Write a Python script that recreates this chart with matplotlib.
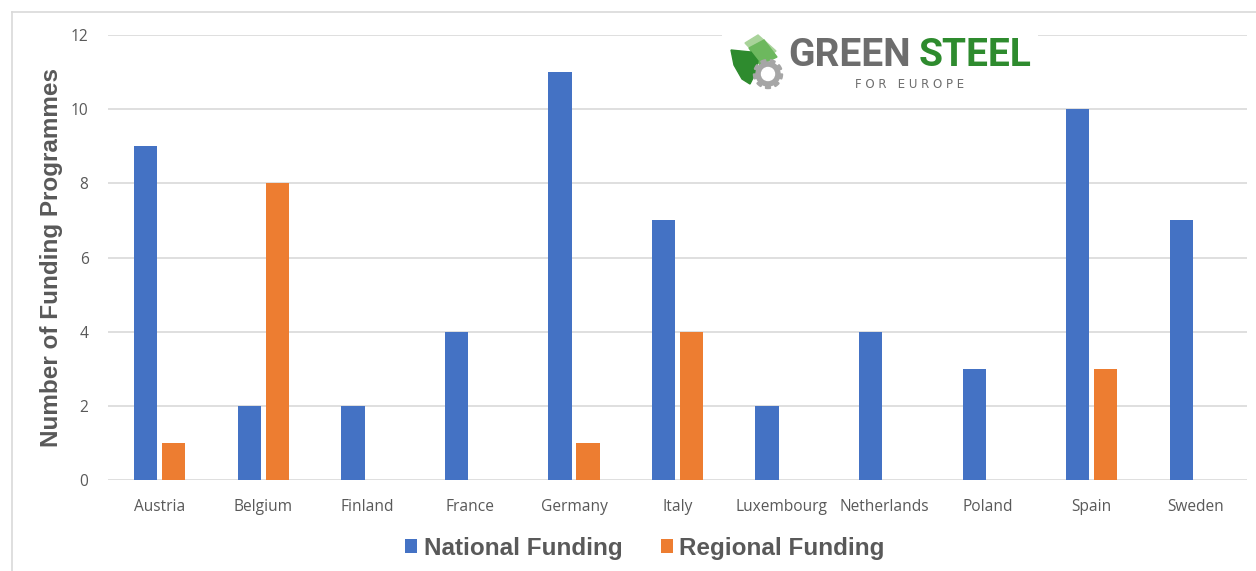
import numpy as np
import matplotlib
matplotlib.use("Agg")
import matplotlib.pyplot as plt
from matplotlib.patches import Circle, Polygon, Wedge
from matplotlib.lines import Line2D

countries = ["Austria", "Belgium", "Finland", "France", "Germany", "Italy",
             "Luxembourg", "Netherlands", "Poland", "Spain", "Sweden"]
national = [9, 2, 2, 4, 11, 7, 2, 4, 3, 10, 7]
regional = [1, 8, 0, 0, 1, 4, 0, 0, 0, 3, 0]
yticks = [0, 2, 4, 6, 8, 10, 12]

blue = "#4472C4"
orange = "#ED7D31"
grey_txt = "#595959"
grid_col = "#D9D9D9"

W, H = 1256, 571
fig = plt.figure(figsize=(W / 100, H / 100), dpi=100)
ax = fig.add_axes([108 / W, 1 - 480 / H, (1247 - 108) / W, (480 - 35) / H])

x = np.arange(len(countries))
bw = 0.225
off = 0.135
ax.bar(x - off, national, bw, color=blue, label="National Funding", zorder=3)
ax.bar(x + off, regional, bw, color=orange, label="Regional Funding", zorder=3)

ax.set_xlim(-0.5, len(countries) - 0.5)
ax.set_ylim(0, 12)
ax.set_yticks(yticks)
ax.set_xticks(x)
ax.set_xticklabels(countries, fontfamily="Open Sans", fontsize=11.2, color=grey_txt)
for lab in ax.get_yticklabels():
    lab.set_fontfamily("Open Sans")
    lab.set_fontsize(11.2)
    lab.set_color(grey_txt)
ax.tick_params(length=0, pad=14)
ax.yaxis.grid(True, color=grid_col, linewidth=1.2, zorder=0)
for s in ax.spines.values():
    s.set_visible(False)
ax.set_ylabel("Number of Funding Programmes", fontfamily="Liberation Sans",
              fontweight="bold", fontsize=17.5, color=grey_txt)
ax.yaxis.set_label_coords((63 - 108) / (1247 - 108), 0.5)

leg = fig.legend(loc="center", bbox_to_anchor=(645 / W, 1 - 548 / H), ncol=2,
                 frameon=False, prop={"family": "Liberation Sans", "weight": "bold", "size": 17.5},
                 handlelength=0.5, handleheight=0.5, handletextpad=0.25, columnspacing=1.6)
for t in leg.get_texts():
    t.set_color(grey_txt)

# outer border
fig.add_artist(Line2D([12 / W, 12 / W], [0, 1 - 12 / H], color=grid_col, lw=1.2))
fig.add_artist(Line2D([12 / W, 1], [1 - 12 / H, 1 - 12 / H], color=grid_col, lw=1.2))

# logo
lax = fig.add_axes([722 / W, 1 - 96 / H, 316 / W, 70 / H])
lax.set_xlim(722, 1038)
lax.set_ylim(96, 26)
lax.set_facecolor("white")
lax.set_xticks([])
lax.set_yticks([])
for s in lax.spines.values():
    s.set_visible(False)
lax.add_patch(Polygon([[745, 43], [758, 35], [776, 51], [762, 61]],
                      closed=True, color="#A9D39A"))
lax.add_patch(Polygon([[749, 48], [764, 40], [777, 57], [760, 65]],
                      closed=True, color="#6DB85E"))
lax.add_patch(Polygon([[731, 50], [751, 52], [758, 61], [756, 72], [750, 84], [742, 79], [734, 65]],
                      closed=True, color="#2E8B2E"))
for a in range(0, 360, 40):
    lax.add_patch(Wedge((768, 74), 14.5, a, a + 20, color="#A6A6A6"))
lax.add_patch(Circle((768, 74), 12, color="#A6A6A6"))
lax.add_patch(Circle((768, 74), 6.5, color="white"))
logo_font = ["Liberation Sans Narrow", "Roboto"]
lax.text(788, 55, "GREEN", fontfamily=logo_font,
         fontweight="bold", fontsize=28, color="#6D6D6D", va="center", ha="left")
lax.text(1031, 55, "STEEL", fontfamily=logo_font,
         fontweight="bold", fontsize=28, color="#2E8B2E", va="center", ha="right")
lax.text(910, 84, "F O R   E U R O P E", fontfamily="DejaVu Sans",
         fontsize=8.5, color="#6D6D6D", va="center", ha="center")

fig.savefig("out.png", dpi=100, facecolor="white")
